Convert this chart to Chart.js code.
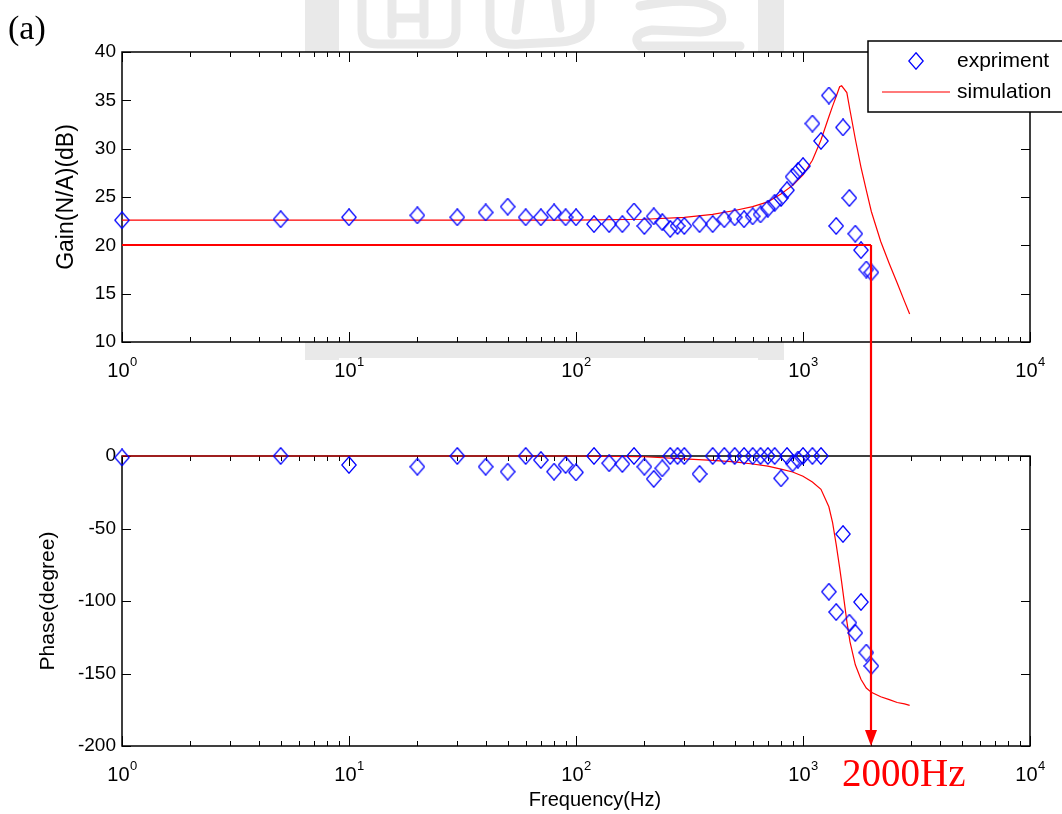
<!DOCTYPE html>
<html>
<head>
<meta charset="utf-8">
<script src="https://cdn.jsdelivr.net/npm/chart.js@4.4.1/dist/chart.umd.min.js"></script>
<style>
  html, body { margin: 0; padding: 0; background: #fff; }
  #wrap { position: relative; width: 1062px; height: 814px; overflow: hidden; }
  canvas { position: absolute; left: 0; }
  #gainCanvas { top: 0; }
  #phaseCanvas { top: 400px; }
</style>
</head>
<body>
<div id="wrap">
  <canvas id="gainCanvas" width="1062" height="400"></canvas>
  <canvas id="phaseCanvas" width="1062" height="414"></canvas>
</div>
<script>
// Measured frequency response (Hz, dB, degrees)
const measFreq = [1, 5, 10, 20, 30, 40, 50, 60, 70, 80, 90, 100, 120, 140, 160, 180, 200, 220, 240, 260,
  280, 300, 350, 400, 450, 500, 550, 600, 650, 700, 750, 800, 850, 900, 950, 1000, 1100, 1200, 1300,
  1400, 1500, 1600, 1700, 1800, 1900, 2000];
const measGain = [22.6, 22.7, 22.9, 23.1, 22.9, 23.4, 24.0, 22.9, 22.9, 23.4, 22.9, 22.9, 22.2, 22.2, 22.2,
  23.5, 22.0, 23.0, 22.4, 21.7, 22.0, 22.0, 22.2, 22.2, 22.7, 22.9, 22.7, 23.0, 23.2, 23.8, 24.4, 24.9,
  25.7, 27.1, 27.7, 28.2, 32.6, 30.8, 35.5, 22.0, 32.2, 24.9, 21.2, 19.5, 17.5, 17.2];
const measPhase = [-1, 0, -6.2, -7.4, 0, -7.4, -10.8, 0, -2.8, -10.8, -6.2, -11.3, 0, -5, -5.5, 0, -7.4,
  -15.8, -8.5, 0, 0, 0, -12.4, 0, 0, 0, 0, 0, 0, 0, 0, -15.4, 0, -5, -2.5, 0, 0, 0, -93.6, -107.6,
  -53.8, -115, -122, -100.7, -135.6, -144.8];

// Simulated response
const simFreq = [1, 10, 100, 200, 300, 400, 500, 600, 700, 800, 900, 1000, 1100, 1200, 1300, 1350, 1400,
  1450, 1480, 1560, 1610, 1700, 1800, 1900, 2000, 2200, 2400, 2600, 2800, 2950];
const simGain = [22.6, 22.6, 22.6, 22.7, 22.9, 23.2, 23.6, 24.0, 24.5, 25.3, 26.2, 27.3, 28.8, 30.9, 33.3,
  34.4, 35.4, 36.4, 36.5, 35.8, 34.0, 31.0, 28.1, 25.7, 23.5, 20.4, 18.1, 16.1, 14.2, 12.9];
const simPhase = [0, 0, 0, -0.5, -2, -3, -4, -5.5, -7, -9, -11, -14, -18, -23, -35, -46, -61, -77, -87,
  -114, -128, -144, -154, -160, -163, -166, -168, -170, -171, -172];

// Axis tick values
const decadeExponents = [0, 1, 2, 3, 4];
const gainTicks = [10, 15, 20, 25, 30, 35, 40];
const phaseTicks = [-200, -150, -100, -50, 0];

// Bandwidth marker
const cutoffFreq = 2000;
const cutoffGain = 20;
const cutoffLabel = '2000Hz';

const SANS = '"Liberation Sans", Arial, Helvetica, sans-serif';
const SERIF = '"Liberation Serif", "Times New Roman", serif';
const RED = '#ff0000';
const BLUE = '#0000ff';

// Open diamond marker
function makeDiamond(w, h) {
  const c = document.createElement('canvas');
  c.width = w; c.height = h;
  const g = c.getContext('2d');
  g.strokeStyle = BLUE;
  g.lineWidth = 1.3;
  g.beginPath();
  g.moveTo(w / 2, 0.8);
  g.lineTo(w - 0.8, h / 2);
  g.lineTo(w / 2, h - 0.8);
  g.lineTo(0.8, h / 2);
  g.closePath();
  g.stroke();
  return c;
}
const diamond = makeDiamond(16, 18);

const toXY = (xs, ys) => xs.map((x, i) => ({ x, y: ys[i] }));

// Frame with inward ticks on all four sides (box style)
const framePlugin = {
  id: 'frame',
  beforeDatasetsDraw(chart, args, opts) {
    const { ctx, chartArea: a } = chart;
    const xs = chart.scales.x, ys = chart.scales.y;
    ctx.save();
    ctx.fillStyle = '#fff';
    ctx.fillRect(a.left, a.top, a.right - a.left, a.bottom - a.top);
    ctx.strokeStyle = '#000';
    ctx.lineWidth = 1;
    ctx.beginPath();
    decadeExponents.forEach(d => {
      const v = Math.pow(10, d);
      const px = Math.round(xs.getPixelForValue(v)) + 0.5;
      ctx.moveTo(px, a.bottom); ctx.lineTo(px, a.bottom - 10);
      ctx.moveTo(px, a.top); ctx.lineTo(px, a.top + 10);
      if (d < 4) {
        for (let m = 2; m <= 9; m++) {
          const p = Math.round(xs.getPixelForValue(m * v)) + 0.5;
          ctx.moveTo(p, a.bottom); ctx.lineTo(p, a.bottom - 5);
          ctx.moveTo(p, a.top); ctx.lineTo(p, a.top + 5);
        }
      }
    });
    opts.yTicks.forEach(t => {
      const py = Math.round(ys.getPixelForValue(t)) + 0.5;
      ctx.moveTo(a.left, py); ctx.lineTo(a.left + 9, py);
      ctx.moveTo(a.right, py); ctx.lineTo(a.right - 9, py);
    });
    ctx.stroke();
    ctx.lineWidth = 1.5;
    ctx.strokeRect(a.left, a.top, a.right - a.left, a.bottom - a.top);
    ctx.restore();
  },
  afterDraw(chart, args, opts) {
    const { ctx, chartArea: a } = chart;
    const xs = chart.scales.x;
    ctx.save();
    ctx.fillStyle = '#000';
    ctx.textBaseline = 'alphabetic';
    const base = a.bottom + 35;
    decadeExponents.forEach(d => {
      const px = xs.getPixelForValue(Math.pow(10, d));
      ctx.font = '20px ' + SANS;
      const w1 = ctx.measureText('10').width;
      ctx.font = '13px ' + SANS;
      const w2 = ctx.measureText(String(d)).width;
      const x0 = px - (w1 + w2) / 2;
      ctx.font = '20px ' + SANS;
      ctx.textAlign = 'left';
      ctx.fillText('10', x0, base);
      ctx.font = '13px ' + SANS;
      ctx.fillText(String(d), x0 + w1 + 0.5, base - 11);
    });
    // y-axis title
    ctx.font = opts.titleSize + 'px ' + SANS;
    ctx.textAlign = 'center';
    ctx.textBaseline = 'middle';
    ctx.translate(opts.titleX, (a.top + a.bottom) / 2);
    ctx.rotate(-Math.PI / 2);
    ctx.fillText(opts.yTitle, 0, 0);
    ctx.restore();
  }
};

// Faint background seal behind the upper plot
function drawSeal(ctx) {
  ctx.save();
  ctx.fillStyle = '#e9e9e9';
  ctx.strokeStyle = '#e9e9e9';
  ctx.lineCap = 'round';
  ctx.lineJoin = 'round';
  ctx.fillRect(305, -10, 34, 370);
  ctx.fillRect(758, -10, 26, 370);
  ctx.fillRect(339, 342, 419, 16);
  ctx.lineWidth = 9;
  // first glyph
  ctx.beginPath();
  ctx.moveTo(362, -5); ctx.lineTo(362, 30); ctx.quadraticCurveTo(362, 44, 378, 44);
  ctx.lineTo(440, 44); ctx.quadraticCurveTo(456, 44, 456, 30); ctx.lineTo(456, -5);
  ctx.moveTo(392, 0); ctx.lineTo(392, 34);
  ctx.moveTo(424, 0); ctx.lineTo(424, 34);
  ctx.moveTo(392, 18); ctx.lineTo(424, 18);
  ctx.stroke();
  // second glyph
  ctx.beginPath();
  ctx.moveTo(490, -5); ctx.lineTo(490, 28); ctx.quadraticCurveTo(492, 46, 520, 44);
  ctx.lineTo(560, 42); ctx.quadraticCurveTo(588, 40, 590, 20); ctx.lineTo(590, -5);
  ctx.moveTo(520, 0); ctx.lineTo(516, 30);
  ctx.moveTo(556, 0); ctx.lineTo(560, 28);
  ctx.stroke();
  // third glyph
  ctx.beginPath();
  ctx.moveTo(640, 6); ctx.quadraticCurveTo(700, -6, 720, 12);
  ctx.quadraticCurveTo(728, 30, 700, 32); ctx.lineTo(652, 30);
  ctx.quadraticCurveTo(630, 34, 640, 46); ctx.lineTo(740, 46);
  ctx.stroke();
  ctx.restore();
}

// ---------------- Gain chart ----------------
const gainExtras = {
  id: 'gainExtras',
  beforeDraw(chart) {
    const { ctx } = chart;
    ctx.save();
    ctx.fillStyle = '#fff';
    ctx.fillRect(0, 0, chart.width, chart.height);
    ctx.restore();
    drawSeal(ctx);
  },
  afterDraw(chart) {
    const { ctx, chartArea: a } = chart;
    const xs = chart.scales.x, ys = chart.scales.y;
    ctx.save();
    // panel tag
    ctx.fillStyle = '#000';
    ctx.font = '34px ' + SERIF;
    ctx.textAlign = 'left';
    ctx.textBaseline = 'alphabetic';
    ctx.fillText('(a)', 8, 39);
    // bandwidth marker
    const cx = Math.round(xs.getPixelForValue(cutoffFreq));
    const cy = Math.round(ys.getPixelForValue(cutoffGain));
    ctx.strokeStyle = RED;
    ctx.lineWidth = 2.2;
    ctx.beginPath();
    ctx.moveTo(a.left, cy); ctx.lineTo(cx, cy);
    ctx.moveTo(cx, cy); ctx.lineTo(cx, chart.height + 2);
    ctx.stroke();
    // legend
    const lx = 868, ly = 41, lw = 210, lh = 71;
    ctx.fillStyle = '#fff';
    ctx.fillRect(lx, ly, lw, lh);
    ctx.strokeStyle = '#000';
    ctx.lineWidth = 1.5;
    ctx.strokeRect(lx, ly, lw, lh);
    ctx.drawImage(diamond, 916 - diamond.width / 2, 61 - diamond.height / 2);
    ctx.strokeStyle = '#ff7a7a';
    ctx.lineWidth = 2;
    ctx.beginPath();
    ctx.moveTo(882, 92); ctx.lineTo(950, 92);
    ctx.stroke();
    ctx.fillStyle = '#000';
    ctx.font = '21px ' + SANS;
    ctx.textBaseline = 'middle';
    ctx.fillText('expriment', 957, 61);
    ctx.fillText('simulation', 957, 92);
    ctx.restore();
  }
};

function xScale(axisHeight) {
  return {
    type: 'logarithmic', min: 1, max: 10000,
    ticks: { display: false },
    grid: { display: false, drawTicks: false },
    border: { display: false },
    afterFit(s) { s.height = axisHeight; }
  };
}
function yScale(min, max, step) {
  return {
    type: 'linear', min, max,
    ticks: { stepSize: step, color: '#000', padding: 6, font: { family: SANS, size: 19 } },
    grid: { display: false, drawTicks: false },
    border: { display: false },
    afterFit(s) { s.width = 122; }
  };
}

new Chart(document.getElementById('gainCanvas'), {
  type: 'scatter',
  data: {
    datasets: [
      {
        label: 'expriment', data: toXY(measFreq, measGain),
        pointStyle: diamond, pointRadius: 8, showLine: false, clip: false
      },
      {
        label: 'simulation', data: toXY(simFreq, simGain),
        showLine: true, pointRadius: 0, borderColor: RED, borderWidth: 1.2, clip: false
      }
    ]
  },
  options: {
    responsive: false, animation: false, devicePixelRatio: 1,
    layout: { padding: { top: 52, right: 32, left: 0, bottom: 0 } },
    plugins: {
      legend: { display: false }, tooltip: { enabled: false },
      frame: { yTicks: gainTicks, yTitle: 'Gain(N/A)(dB)', titleX: 67, titleSize: 23 }
    },
    scales: { x: xScale(58), y: yScale(10, 40, 5) }
  },
  plugins: [gainExtras, framePlugin]
});

// ---------------- Phase chart ----------------
const phaseExtras = {
  id: 'phaseExtras',
  beforeDraw(chart) {
    const { ctx } = chart;
    ctx.save();
    ctx.fillStyle = '#fff';
    ctx.fillRect(0, 0, chart.width, chart.height);
    ctx.restore();
  },
  afterDraw(chart) {
    const { ctx, chartArea: a } = chart;
    const xs = chart.scales.x, ys = chart.scales.y;
    ctx.save();
    const cx = Math.round(xs.getPixelForValue(cutoffFreq));
    const tipY = ys.getPixelForValue(-200);
    ctx.strokeStyle = RED;
    ctx.fillStyle = RED;
    ctx.lineWidth = 2.2;
    ctx.beginPath();
    ctx.moveTo(cx, -2); ctx.lineTo(cx, tipY - 14);
    ctx.stroke();
    ctx.beginPath();
    ctx.moveTo(cx, tipY);
    ctx.lineTo(cx - 6, tipY - 16);
    ctx.lineTo(cx + 6, tipY - 16);
    ctx.closePath();
    ctx.fill();
    // frequency label
    ctx.font = '39px ' + SERIF;
    ctx.textAlign = 'left';
    ctx.textBaseline = 'alphabetic';
    ctx.fillText(cutoffLabel, 842, 386);
    // x-axis title
    ctx.fillStyle = '#000';
    ctx.font = '20px ' + SANS;
    ctx.textAlign = 'center';
    ctx.textBaseline = 'middle';
    ctx.fillText('Frequency(Hz)', 595, 400);
    ctx.restore();
  }
};

new Chart(document.getElementById('phaseCanvas'), {
  type: 'scatter',
  data: {
    datasets: [
      {
        label: 'expriment', data: toXY(measFreq, measPhase),
        pointStyle: diamond, pointRadius: 8, showLine: false, clip: false
      },
      {
        label: 'simulation', data: toXY(simFreq, simPhase),
        showLine: true, pointRadius: 0, borderColor: RED, borderWidth: 1.2, clip: false
      }
    ]
  },
  options: {
    responsive: false, animation: false, devicePixelRatio: 1,
    layout: { padding: { top: 56, right: 32, left: 0, bottom: 0 } },
    plugins: {
      legend: { display: false }, tooltip: { enabled: false },
      frame: { yTicks: phaseTicks, yTitle: 'Phase(degree)', titleX: 48, titleSize: 21 }
    },
    scales: { x: xScale(68), y: yScale(-200, 0, 50) }
  },
  plugins: [phaseExtras, framePlugin]
});
</script>
</body>
</html>
